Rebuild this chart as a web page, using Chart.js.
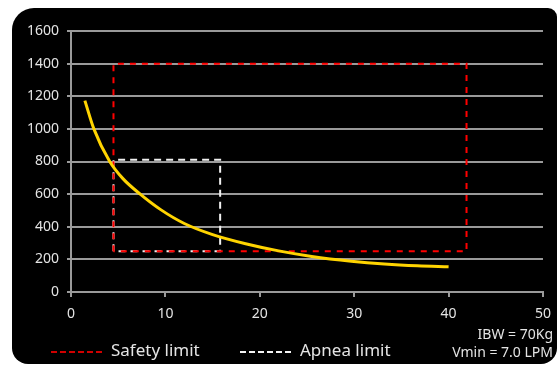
<!DOCTYPE html>
<html>
<head>
<meta charset="utf-8">
<script src="https://cdn.jsdelivr.net/npm/chart.js@4/dist/chart.umd.min.js"></script>
<style>
  html, body { margin: 0; padding: 0; background: #fff; }
  #wrap { position: relative; width: 560px; height: 365px; overflow: hidden; }
  #panel {
    position: absolute; left: 12px; top: 8px; width: 545px; height: 356px;
    background: #000; border-radius: 22px 9px 16px 16px;
  }
  #myChart { position: absolute; left: 0; top: 0; }
</style>
</head>
<body>
<div id="wrap">
  <div id="panel"></div>
  <canvas id="myChart" width="560" height="365"></canvas>
</div>
<script>
'use strict';

// ******* DATA *******

let curveX = [1.47, 2.42, 4.1, 5.5, 7.33, 9.5, 12, 15, 18.5, 22, 25.5, 29.7, 33.2, 36.7, 40];
let curveY = [1173, 1000, 800, 695, 600, 505, 420, 352, 296, 252, 218, 189, 172, 161, 155];

let safetyX = [4.5, 4.5, 41.9, 41.9, 4.5];
let safetyY = [250, 1400, 1400, 250, 250];

let apneaX = [4.5, 4.5, 15.8, 15.8, 4.5];
let apneaY = [250, 810, 810, 250, 250];

let xTicks = [0, 10, 20, 30, 40, 50];
let yTicks = [0, 200, 400, 600, 800, 1000, 1200, 1400, 1600];

let legendLabels = ['Safety limit', 'Apnea limit'];
let infoLines = ['IBW = 70Kg', 'Vmin = 7.0 LPM'];


// ******* HELPERS *******

function toPoints(xs, ys) {
  let pts = [];
  for (let i = 0; i < xs.length; i++) {
    pts.push({ x: xs[i], y: ys[i] });
  }
  return pts;
}

const fontFamily = '"Noto Sans", "Open Sans", sans-serif';
const gridColor = '#9a9a9a';
const textColor = '#e4e4e4';

// legend + IBW text drawn under the axes
const bottomText = {
  id: 'bottomText',
  afterDraw(chart) {
    const ctx = chart.ctx;
    ctx.save();
    ctx.lineWidth = 2;
    ctx.textBaseline = 'middle';

    ctx.font = '17px ' + fontFamily;
    ctx.fillStyle = textColor;

    // safety limit sample
    ctx.strokeStyle = '#d00000';
    ctx.setLineDash([6, 3]);
    ctx.beginPath();
    ctx.moveTo(51, 352);
    ctx.lineTo(102, 352);
    ctx.stroke();
    ctx.textAlign = 'left';
    ctx.fillText(legendLabels[0], 111, 351);

    // apnea limit sample
    ctx.strokeStyle = '#f4f4f4';
    ctx.beginPath();
    ctx.moveTo(240, 352);
    ctx.lineTo(291, 352);
    ctx.stroke();
    ctx.fillText(legendLabels[1], 300, 351);

    ctx.font = '14px ' + fontFamily;
    ctx.textAlign = 'right';
    ctx.fillText(infoLines[0], 553, 335);
    ctx.fillText(infoLines[1], 553, 353);
    ctx.restore();
  }
};


// ******* CHART *******

const ctx = document.getElementById('myChart').getContext('2d');
const myChart = new Chart(ctx, {
  type: 'scatter',
  data: {
    datasets: [
      {
        label: 'Curve',
        data: toPoints(curveX, curveY),
        showLine: true,
        borderColor: '#ffd400',
        borderWidth: 3,
        pointRadius: 0,
        cubicInterpolationMode: 'monotone',
        order: 0
      },
      {
        label: legendLabels[1],
        data: toPoints(apneaX, apneaY),
        showLine: true,
        borderColor: '#f0f0f0',
        borderWidth: 2,
        borderDash: [7, 5],
        pointRadius: 0,
        tension: 0,
        order: 2
      },
      {
        label: legendLabels[0],
        data: toPoints(safetyX, safetyY),
        showLine: true,
        borderColor: '#ff0000',
        borderWidth: 2,
        borderDash: [6, 6],
        pointRadius: 0,
        tension: 0,
        order: 1
      }
    ]
  },
  options: {
    responsive: false,
    animation: false,
    layout: { padding: { left: 0, right: 14, top: 31, bottom: 0 } },
    plugins: {
      legend: { display: false },
      tooltip: { enabled: false }
    },
    scales: {
      x: {
        type: 'linear',
        min: 0,
        max: 50,
        afterBuildTicks: (scale) => { scale.ticks = xTicks.map(v => ({ value: v })); },
        afterFit: (scale) => { scale.height = 73; },
        grid: { drawOnChartArea: false, drawTicks: true, tickLength: 5, color: gridColor, lineWidth: 2 },
        border: { color: gridColor, width: 2 },
        ticks: { color: textColor, padding: 9, font: { family: fontFamily, size: 14 } }
      },
      y: {
        min: 0,
        max: 1600,
        afterBuildTicks: (scale) => { scale.ticks = yTicks.map(v => ({ value: v })); },
        afterFit: (scale) => { scale.width = 71; },
        grid: { color: gridColor, lineWidth: 2, tickLength: 4 },
        border: { color: gridColor, width: 2 },
        ticks: {
          color: textColor,
          padding: 8,
          font: { family: fontFamily, size: 14 },
          callback: (value) => String(value)
        }
      }
    }
  },
  plugins: [bottomText]
});
</script>
</body>
</html>
